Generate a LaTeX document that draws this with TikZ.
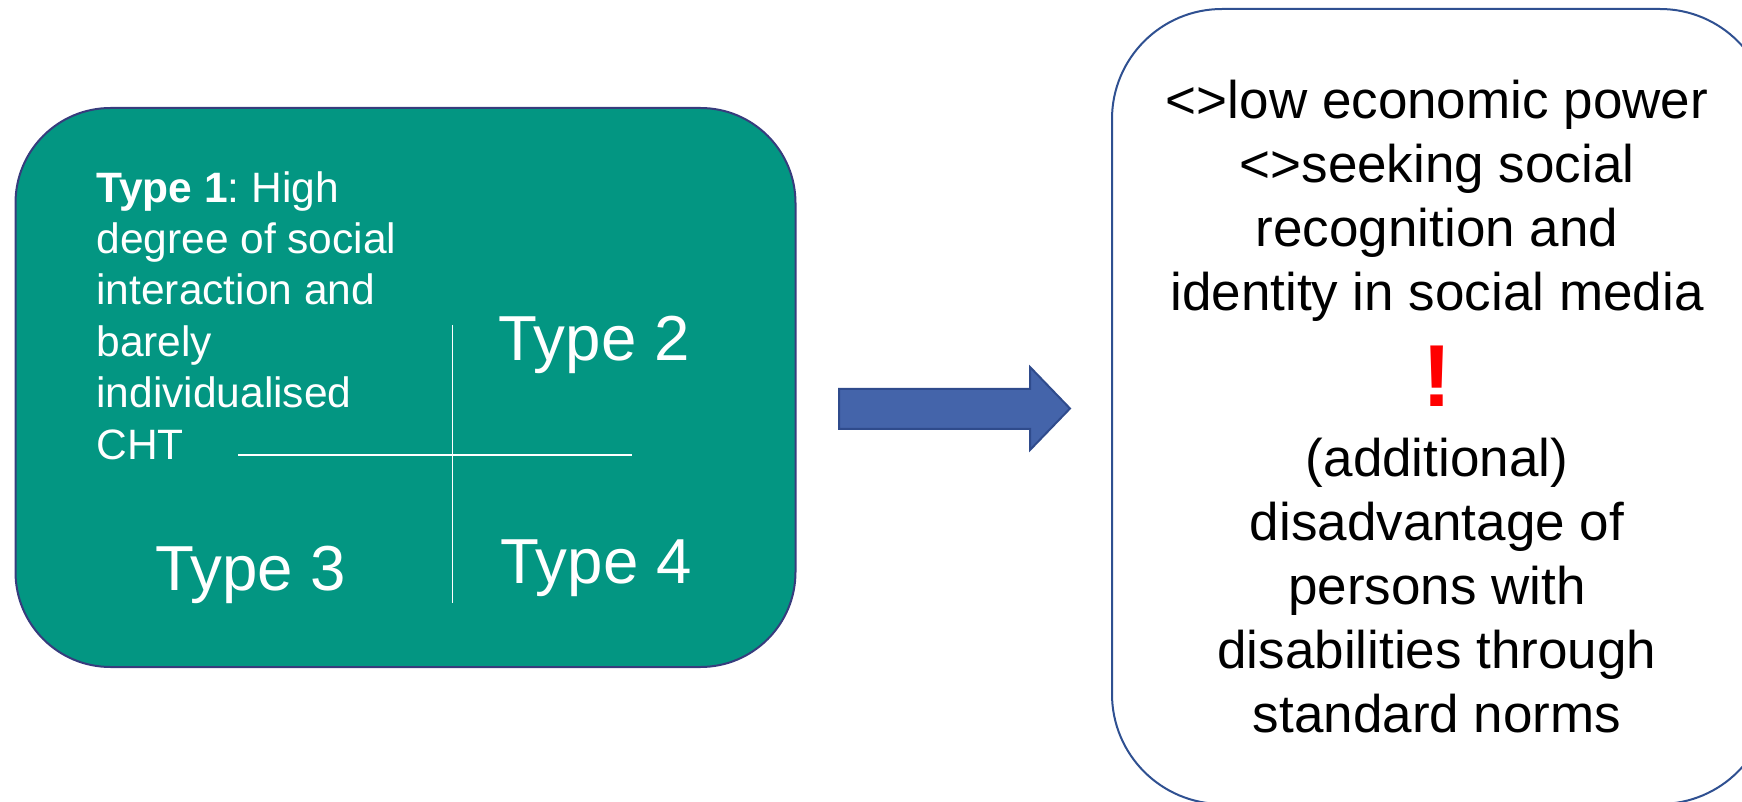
\documentclass[tikz,border=0pt]{standalone}
\usepackage{fontspec}
\setmainfont{Liberation Sans}
\frenchspacing
\definecolor{boxteal}{RGB}{3,150,130}
\definecolor{boxedge}{RGB}{55,60,125}
\definecolor{arrowblue}{RGB}{68,100,170}
\definecolor{arrowedge}{RGB}{47,75,140}
\definecolor{outedge}{RGB}{47,80,145}
\tikzset{
	typelabel/.style={text=white, inner sep=0pt, anchor=base, font=\fontsize{31.8}{37}\selectfont},
	outtext/.style={inner sep=0pt, anchor=base, align=center, font=\fontsize{26.5}{32}\selectfont}
}

\begin{document}
\begin{tikzpicture}[x=0.5pt,y=-0.5pt]
		\useasboundingbox (0,0) rectangle (1742,802);
		\clip (0,0) rectangle (1742,802);
		% left box with the four types
		\draw[boxedge, line width=1pt, fill=boxteal, rounded corners=47.5pt](15.5,108) rectangle (795.5,667);
		\draw[white, line width=0.7pt](238,455)--(632,455);
		\draw[white, line width=0.7pt](452.5,325)--(452.5,603);
		\node[inner sep=0pt, anchor=base west, align=left, text=white, font=\fontsize{21.25}{25.7}\selectfont] (type1) at (96,459) {\textbf{Type 1}: High\\degree of social\\interaction and\\barely\\individualised\\CHT};
		\node[typelabel] (type2) at (594,361) {Type 2};
		\node[typelabel] (type3) at (250.5,590) {Type 3};
		\node[typelabel] (type4) at (596,583) {Type 4};
		% block arrow
		\filldraw[arrowblue, draw=arrowedge, line width=1pt](839,389)--(1030,389)--(1030,367)--(1070,408.5)--(1030,450)--(1030,429)--(839,429)--cycle;
		% right box
		\draw[outedge, line width=1pt, fill=white, rounded corners=55pt](1112,9) rectangle (1770,804);
		\node[outtext] (causes) at (1437,310.5) {<>low economic power\\<>seeking social\\recognition and\\identity in social media};
		\node[inner sep=0pt, anchor=base, text=red, font=\fontsize{44}{50}\selectfont\bfseries] (warn) at (1437,406.5) {!};
		\node[outtext] (effect) at (1437,732.5) {(additional)\\disadvantage of\\persons with\\disabilities through\\standard norms};
	\end{tikzpicture}
\end{document}
